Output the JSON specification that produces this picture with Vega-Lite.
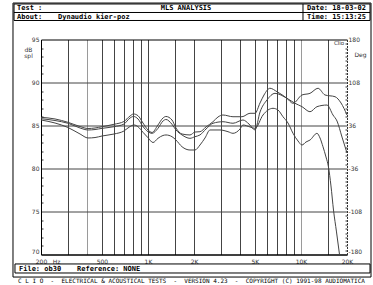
{
  "$schema": "https://vega.github.io/schema/vega-lite/v6.json",
  "width": 306,
  "height": 215,
  "autosize": "none",
  "padding": {"left": 41, "top": 39.5, "right": 26, "bottom": 30.5},
  "background": "white",
  "config": {
    "view": {"stroke": null},
    "axis": {"labelFont": "DejaVu Sans", "labelFontSize": 6, "labelColor": "#333", "titleFont": "DejaVu Sans", "titleFontSize": 6, "titleFontWeight": "normal", "titleColor": "#333"}
  },
  "data": {"values": [{}]},
  "datasets": {
    "mls": [
      {"series": "A", "f": 200, "db": 85.95}, {"series": "A", "f": 247, "db": 85.76}, {"series": "A", "f": 300, "db": 85.37}, {"series": "A", "f": 360, "db": 84.88}, {"series": "A", "f": 406, "db": 84.65}, {"series": "A", "f": 451, "db": 84.71}, {"series": "A", "f": 501, "db": 84.86}, {"series": "A", "f": 600, "db": 85.14}, {"series": "A", "f": 697, "db": 85.47}, {"series": "A", "f": 763, "db": 86.1}, {"series": "A", "f": 805, "db": 86.34}, {"series": "A", "f": 861, "db": 86.14}, {"series": "A", "f": 928, "db": 85.29}, {"series": "A", "f": 1001, "db": 84.48}, {"series": "A", "f": 1063, "db": 84.19}, {"series": "A", "f": 1163, "db": 85.06}, {"series": "A", "f": 1254, "db": 85.87}, {"series": "A", "f": 1312, "db": 86.05}, {"series": "A", "f": 1436, "db": 85.64}, {"series": "A", "f": 1525, "db": 84.71}, {"series": "A", "f": 1670, "db": 84.01}, {"series": "A", "f": 1883, "db": 83.9}, {"series": "A", "f": 2030, "db": 84.24}, {"series": "A", "f": 2188, "db": 84.28}, {"series": "A", "f": 2396, "db": 84.83}, {"series": "A", "f": 2662, "db": 85.44}, {"series": "A", "f": 2870, "db": 85.99}, {"series": "A", "f": 3094, "db": 86.22}, {"series": "A", "f": 3596, "db": 86.02}, {"series": "A", "f": 4118, "db": 86.02}, {"series": "A", "f": 4645, "db": 86.42}, {"series": "A", "f": 5009, "db": 86.42}, {"series": "A", "f": 5402, "db": 87.62}, {"series": "A", "f": 5736, "db": 88.55}, {"series": "A", "f": 6277, "db": 89.33}, {"series": "A", "f": 6976, "db": 88.93}, {"series": "A", "f": 8104, "db": 88.16}, {"series": "A", "f": 8876, "db": 87.58}, {"series": "A", "f": 10160, "db": 88.55}, {"series": "A", "f": 11462, "db": 88.74}, {"series": "A", "f": 12930, "db": 89.33}, {"series": "A", "f": 14362, "db": 88.55}, {"series": "A", "f": 16696, "db": 88.35}, {"series": "A", "f": 18274, "db": 87.62}, {"series": "A", "f": 20000, "db": 86.22},
      {"series": "B", "f": 200, "db": 85.79}, {"series": "B", "f": 247, "db": 85.58}, {"series": "B", "f": 300, "db": 85.26}, {"series": "B", "f": 360, "db": 84.71}, {"series": "B", "f": 406, "db": 84.48}, {"series": "B", "f": 451, "db": 84.53}, {"series": "B", "f": 501, "db": 84.67}, {"series": "B", "f": 600, "db": 84.86}, {"series": "B", "f": 697, "db": 85.17}, {"series": "B", "f": 763, "db": 85.87}, {"series": "B", "f": 805, "db": 86.05}, {"series": "B", "f": 861, "db": 85.76}, {"series": "B", "f": 928, "db": 84.88}, {"series": "B", "f": 1001, "db": 84.28}, {"series": "B", "f": 1063, "db": 84.09}, {"series": "B", "f": 1163, "db": 84.67}, {"series": "B", "f": 1254, "db": 85.52}, {"series": "B", "f": 1312, "db": 85.7}, {"series": "B", "f": 1436, "db": 85.14}, {"series": "B", "f": 1525, "db": 84.48}, {"series": "B", "f": 1670, "db": 83.9}, {"series": "B", "f": 1883, "db": 83.51}, {"series": "B", "f": 2030, "db": 83.7}, {"series": "B", "f": 2188, "db": 83.9}, {"series": "B", "f": 2396, "db": 84.59}, {"series": "B", "f": 2662, "db": 85.26}, {"series": "B", "f": 3094, "db": 85.44}, {"series": "B", "f": 3596, "db": 85.26}, {"series": "B", "f": 4181, "db": 85.64}, {"series": "B", "f": 4576, "db": 85.17}, {"series": "B", "f": 5009, "db": 84.48}, {"series": "B", "f": 5402, "db": 86.57}, {"series": "B", "f": 6000, "db": 87.97}, {"series": "B", "f": 6768, "db": 88.74}, {"series": "B", "f": 8104, "db": 88.16}, {"series": "B", "f": 9146, "db": 87.58}, {"series": "B", "f": 10160, "db": 87.19}, {"series": "B", "f": 11462, "db": 86.6}, {"series": "B", "f": 12736, "db": 87.19}, {"series": "B", "f": 14798, "db": 87.38}, {"series": "B", "f": 16200, "db": 86.22}, {"series": "B", "f": 17206, "db": 85.52}, {"series": "B", "f": 18552, "db": 83.66}, {"series": "B", "f": 20000, "db": 81.8},
      {"series": "C", "f": 200, "db": 85.64}, {"series": "C", "f": 247, "db": 85.29}, {"series": "C", "f": 300, "db": 84.77}, {"series": "C", "f": 360, "db": 84.01}, {"series": "C", "f": 406, "db": 83.55}, {"series": "C", "f": 451, "db": 83.6}, {"series": "C", "f": 501, "db": 83.78}, {"series": "C", "f": 600, "db": 84.01}, {"series": "C", "f": 697, "db": 84.36}, {"series": "C", "f": 763, "db": 84.88}, {"series": "C", "f": 811, "db": 85.06}, {"series": "C", "f": 861, "db": 84.86}, {"series": "C", "f": 928, "db": 84.21}, {"series": "C", "f": 1001, "db": 83.58}, {"series": "C", "f": 1079, "db": 83.02}, {"series": "C", "f": 1163, "db": 83.51}, {"series": "C", "f": 1254, "db": 83.84}, {"series": "C", "f": 1312, "db": 83.9}, {"series": "C", "f": 1436, "db": 83.7}, {"series": "C", "f": 1525, "db": 83.31}, {"series": "C", "f": 1670, "db": 82.53}, {"series": "C", "f": 1883, "db": 82.15}, {"series": "C", "f": 2030, "db": 82.15}, {"series": "C", "f": 2188, "db": 82.73}, {"series": "C", "f": 2360, "db": 83.55}, {"series": "C", "f": 2545, "db": 84.48}, {"series": "C", "f": 2958, "db": 84.48}, {"series": "C", "f": 3336, "db": 84.28}, {"series": "C", "f": 3596, "db": 84.09}, {"series": "C", "f": 3996, "db": 84.59}, {"series": "C", "f": 4181, "db": 85.06}, {"series": "C", "f": 4645, "db": 84.83}, {"series": "C", "f": 5009, "db": 84.67}, {"series": "C", "f": 5649, "db": 86.22}, {"series": "C", "f": 6091, "db": 86.8}, {"series": "C", "f": 6568, "db": 87.0}, {"series": "C", "f": 7080, "db": 86.8}, {"series": "C", "f": 7633, "db": 86.02}, {"series": "C", "f": 8229, "db": 85.29}, {"series": "C", "f": 8876, "db": 84.09}, {"series": "C", "f": 9567, "db": 83.2}, {"series": "C", "f": 10160, "db": 82.73}, {"series": "C", "f": 10790, "db": 83.08}, {"series": "C", "f": 11462, "db": 83.31}, {"series": "C", "f": 12736, "db": 84.09}, {"series": "C", "f": 13322, "db": 83.55}, {"series": "C", "f": 13936, "db": 82.53}, {"series": "C", "f": 14578, "db": 81.34}, {"series": "C", "f": 15136, "db": 80.17}, {"series": "C", "f": 15716, "db": 77.97}, {"series": "C", "f": 16322, "db": 75.17}, {"series": "C", "f": 17078, "db": 72.62}, {"series": "C", "f": 17866, "db": 70.0}
    ]
  },
  "layer": [
    {
      "data": {"name": "mls"},
      "mark": {"type": "line", "stroke": "#444", "strokeWidth": 1, "interpolate": "monotone"},
      "encoding": {
        "x": {"field": "f", "type": "quantitative", "scale": {"type": "log", "domain": [200, 20000], "nice": false},
          "axis": {"values": [200, 300, 400, 500, 600, 700, 800, 900, 1000, 1500, 2000, 3000, 4000, 5000, 6000, 7000, 8000, 9000, 10000, 15000, 20000],
            "labelExpr": "indexof([200, 500, 1000, 2000, 5000, 10000, 20000], datum.value) >= 0 ? (datum.value >= 1000 ? (datum.value / 1000) + 'K' : datum.value + '') : ''",
            "ticks": false, "labelPadding": 3.5, "labelFlush": false, "labelOverlap": false,
            "domain": true, "domainColor": "black",
            "grid": true,
            "gridColor": {"condition": {"test": "datum.value == 400 || datum.value == 10000", "value": "#9a9a9a"}, "value": "#444"},
            "gridOpacity": {"condition": {"test": "datum.value == 200 || datum.value == 20000", "value": 0}, "value": 1},
            "title": "Hz", "titleX": 15, "titleY": 3.5, "titleAlign": "center", "titleBaseline": "top", "titleColor": "#333"}},
        "y": {"field": "db", "type": "quantitative", "scale": {"domain": [70, 95], "nice": false, "zero": false},
          "axis": {"orient": "left", "values": [70, 71, 72, 73, 74, 75, 76, 77, 78, 79, 80, 81, 82, 83, 84, 85, 86, 87, 88, 89, 90, 91, 92, 93, 94, 95],
            "labelExpr": "datum.value % 5 == 0 ? datum.value + '' : ''",
            "labelPadding": 2, "labelFlush": false, "labelOverlap": false,
            "labelBaseline": {"condition": {"test": "datum.value == 70", "value": "bottom"}, "value": "middle"},
            "domain": true, "domainColor": "black",
            "tickColor": "#333",
            "tickSize": {"condition": {"test": "datum.value % 5 == 0", "value": 0}, "value": -2},
            "grid": true,
            "gridColor": {"condition": {"test": "datum.value == 70 || datum.value == 95", "value": "black"}, "value": "#444"},
            "gridOpacity": {"condition": {"test": "datum.value % 5 == 0", "value": 1}, "value": 0},
            "title": ["dB", "spl"], "titleAngle": 0, "titleX": -13, "titleY": 7, "titleAlign": "center", "titleBaseline": "top", "titleLineHeight": 6, "titleColor": "#333"}},
        "detail": {"field": "series", "type": "nominal"}
      }
    },
    {
      "mark": {"type": "rule", "opacity": 0},
      "encoding": {
        "y": {"datum": 0, "type": "quantitative", "scale": {"domain": [-180, 180], "nice": false, "zero": false},
          "axis": {"orient": "right",
            "values": [-180, -172.8, -165.6, -158.4, -151.2, -144, -136.8, -129.6, -122.4, -115.2, -108, -100.8, -93.6, -86.4, -79.2, -72, -64.8, -57.6, -50.4, -43.2, -36, -28.8, -21.6, -14.4, -7.2, 0, 7.2, 14.4, 21.6, 28.8, 36, 43.2, 50.4, 57.6, 64.8, 72, 79.2, 86.4, 93.6, 100.8, 108, 115.2, 122.4, 129.6, 136.8, 144, 151.2, 158.4, 165.6, 172.8, 180],
            "labelExpr": "indexof([-180, -108, -36, 36, 108, 180], datum.value) >= 0 ? datum.value + '' : ''",
            "labelPadding": 1, "labelFlush": false, "labelOverlap": false,
            "labelBaseline": {"condition": {"test": "datum.value == -180", "value": "bottom"}, "value": "middle"},
            "domain": true, "domainColor": "#333", "domainDash": [2, 1],
            "tickColor": "#333",
            "tickSize": {"condition": {"test": "indexof([-180, -108, -36, 36, 108, 180], datum.value) >= 0", "value": 0}, "value": -2},
            "grid": false,
            "title": "Deg", "titleAngle": 0, "titleX": 7, "titleY": 15, "titleAlign": "left", "titleBaseline": "middle", "titleColor": "#333"}}
      }
    },
    {
      "mark": {"type": "rect", "fill": null, "stroke": "black", "strokeWidth": 1},
      "encoding": {
        "x": {"datum": 133.3, "type": "quantitative", "axis": null, "scale": {"type": "log", "domain": [200, 20000], "nice": false}},
        "x2": {"datum": 28278},
        "y": {"datum": 99.13, "type": "quantitative", "axis": null, "scale": {"domain": [70, 95], "nice": false, "zero": false}},
        "y2": {"datum": 97.21}
      }
    },
    {
      "mark": {"type": "rule", "stroke": "black", "strokeWidth": 1},
      "encoding": {
        "x": {"datum": 133.3, "type": "quantitative", "axis": null, "scale": {"type": "log", "domain": [200, 20000], "nice": false}},
        "x2": {"datum": 28278},
        "y": {"datum": 98.14, "type": "quantitative", "axis": null, "scale": {"domain": [70, 95], "nice": false, "zero": false}}
      }
    },
    {
      "mark": {"type": "rule", "stroke": "black", "strokeWidth": 1},
      "encoding": {
        "x": {"datum": 10314, "type": "quantitative", "axis": null, "scale": {"type": "log", "domain": [200, 20000], "nice": false}},
        "y": {"datum": 99.13, "type": "quantitative", "axis": null, "scale": {"domain": [70, 95], "nice": false, "zero": false}},
        "y2": {"datum": 97.21}
      }
    },
    {
      "mark": {"type": "rect", "fill": null, "stroke": "black", "strokeWidth": 1},
      "encoding": {
        "x": {"datum": 135.2, "type": "quantitative", "axis": null, "scale": {"type": "log", "domain": [200, 20000], "nice": false}},
        "x2": {"datum": 28278},
        "y": {"datum": 68.9, "type": "quantitative", "axis": null, "scale": {"domain": [70, 95], "nice": false, "zero": false}},
        "y2": {"datum": 67.85}
      }
    },
    {
      "mark": {"type": "rect", "fill": null, "stroke": "black", "strokeWidth": 1},
      "encoding": {
        "x": {"datum": 131.2, "type": "quantitative", "axis": null, "scale": {"type": "log", "domain": [200, 20000], "nice": false}},
        "x2": {"datum": 28706},
        "y": {"datum": 99.24, "type": "quantitative", "axis": null, "scale": {"domain": [70, 95], "nice": false, "zero": false}},
        "y2": {"datum": 67.38}
      }
    },
    {
      "mark": {"type": "text", "align": "left", "baseline": "middle", "font": "DejaVu Sans Mono", "fontSize": 7, "fontWeight": "bold", "text": "Test :"},
      "encoding": {
        "x": {"datum": 139.4, "type": "quantitative", "axis": null, "scale": {"type": "log", "domain": [200, 20000], "nice": false}},
        "y": {"datum": 98.62, "type": "quantitative", "axis": null, "scale": {"domain": [70, 95], "nice": false, "zero": false}}
      }
    },
    {
      "mark": {"type": "text", "align": "center", "baseline": "middle", "font": "DejaVu Sans Mono", "fontSize": 7, "fontWeight": "bold", "text": "MLS ANALYSIS"},
      "encoding": {
        "x": {"datum": 1773, "type": "quantitative", "axis": null, "scale": {"type": "log", "domain": [200, 20000], "nice": false}},
        "y": {"datum": 98.62, "type": "quantitative", "axis": null, "scale": {"domain": [70, 95], "nice": false, "zero": false}}
      }
    },
    {
      "mark": {"type": "text", "align": "left", "baseline": "middle", "font": "DejaVu Sans Mono", "fontSize": 7, "fontWeight": "bold", "text": "Date: 18-03-02"},
      "encoding": {
        "x": {"datum": 10954, "type": "quantitative", "axis": null, "scale": {"type": "log", "domain": [200, 20000], "nice": false}},
        "y": {"datum": 98.62, "type": "quantitative", "axis": null, "scale": {"domain": [70, 95], "nice": false, "zero": false}}
      }
    },
    {
      "mark": {"type": "text", "align": "left", "baseline": "middle", "font": "DejaVu Sans Mono", "fontSize": 7, "fontWeight": "bold", "text": "About:"},
      "encoding": {
        "x": {"datum": 139.4, "type": "quantitative", "axis": null, "scale": {"type": "log", "domain": [200, 20000], "nice": false}},
        "y": {"datum": 97.67, "type": "quantitative", "axis": null, "scale": {"domain": [70, 95], "nice": false, "zero": false}}
      }
    },
    {
      "mark": {"type": "text", "align": "left", "baseline": "middle", "font": "DejaVu Sans Mono", "fontSize": 7, "fontWeight": "bold", "text": "Dynaudio kier-poz"},
      "encoding": {
        "x": {"datum": 258.3, "type": "quantitative", "axis": null, "scale": {"type": "log", "domain": [200, 20000], "nice": false}},
        "y": {"datum": 97.67, "type": "quantitative", "axis": null, "scale": {"domain": [70, 95], "nice": false, "zero": false}}
      }
    },
    {
      "mark": {"type": "text", "align": "left", "baseline": "middle", "font": "DejaVu Sans Mono", "fontSize": 7, "fontWeight": "bold", "text": "Time: 15:13:25"},
      "encoding": {
        "x": {"datum": 10954, "type": "quantitative", "axis": null, "scale": {"type": "log", "domain": [200, 20000], "nice": false}},
        "y": {"datum": 97.67, "type": "quantitative", "axis": null, "scale": {"domain": [70, 95], "nice": false, "zero": false}}
      }
    },
    {
      "mark": {"type": "text", "align": "left", "baseline": "middle", "font": "DejaVu Sans Mono", "fontSize": 7, "fontWeight": "bold", "text": "File: ob30"},
      "encoding": {
        "x": {"datum": 143.6, "type": "quantitative", "axis": null, "scale": {"type": "log", "domain": [200, 20000], "nice": false}},
        "y": {"datum": 68.37, "type": "quantitative", "axis": null, "scale": {"domain": [70, 95], "nice": false, "zero": false}}
      }
    },
    {
      "mark": {"type": "text", "align": "left", "baseline": "middle", "font": "DejaVu Sans Mono", "fontSize": 7, "fontWeight": "bold", "text": "Reference: NONE"},
      "encoding": {
        "x": {"datum": 343.8, "type": "quantitative", "axis": null, "scale": {"type": "log", "domain": [200, 20000], "nice": false}},
        "y": {"datum": 68.37, "type": "quantitative", "axis": null, "scale": {"domain": [70, 95], "nice": false, "zero": false}}
      }
    },
    {
      "mark": {"type": "text", "align": "center", "baseline": "middle", "font": "DejaVu Sans Mono", "fontSize": 6, "text": "C L I O \u00a0-\u00a0 ELECTRICAL & ACOUSTICAL TESTS \u00a0-\u00a0 VERSION 4.23 \u00a0-\u00a0 COPYRIGHT (C) 1991-98 AUDIOMATICA"},
      "encoding": {
        "x": {"datum": 1926, "type": "quantitative", "axis": null, "scale": {"type": "log", "domain": [200, 20000], "nice": false}},
        "y": {"datum": 66.92, "type": "quantitative", "axis": null, "scale": {"domain": [70, 95], "nice": false, "zero": false}}
      }
    },
    {
      "mark": {"type": "text", "align": "center", "baseline": "middle", "font": "DejaVu Sans", "fontSize": 5.5, "fill": "#333", "text": "Clio"},
      "encoding": {
        "x": {"datum": 17733, "type": "quantitative", "axis": null, "scale": {"type": "log", "domain": [200, 20000], "nice": false}},
        "y": {"datum": 94.65, "type": "quantitative", "axis": null, "scale": {"domain": [70, 95], "nice": false, "zero": false}}
      }
    }
  ],
  "resolve": {"scale": {"x": "independent", "y": "independent"}}
}
